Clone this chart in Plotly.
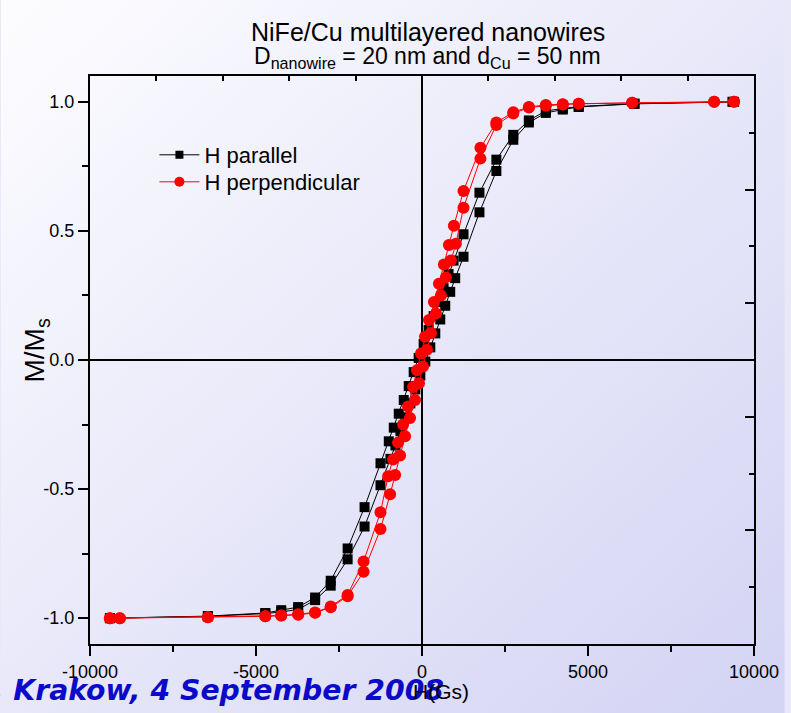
import base64
import plotly.graph_objects as go

# ---------------- data ----------------
# H parallel (black squares): descending branch then ascending branch
H_par_down = [9400, 6400, 4720, 4240, 3730, 3220, 2750, 2240, 1730, 1250, 950, 800, 650, 500,
              350, 200, 50, -100, -250, -400, -550, -700, -850, -1000, -1250, -1730, -2240,
              -2750, -3220, -3730, -4240, -4720, -6450, -9400]
M_par_down = [1.0, 0.993, 0.982, 0.975, 0.965, 0.928, 0.872, 0.776, 0.648, 0.487, 0.385, 0.333,
              0.278, 0.224, 0.17, 0.116, 0.062, 0.008, -0.047, -0.101, -0.155, -0.208, -0.262,
              -0.315, -0.400, -0.570, -0.730, -0.855, -0.920, -0.957, -0.969, -0.980, -0.992, -1.0]
H_par_up = [-9400, -6450, -4720, -4240, -3730, -3220, -2750, -2240, -1730, -1250, -950, -800, -650,
            -500, -350, -200, -50, 100, 250, 400, 550, 700, 850, 1000, 1250, 1730, 2240, 2750,
            3220, 3730, 4240, 4720, 6400, 9350]
M_par_up = [-1.0, -0.993, -0.982, -0.976, -0.966, -0.93, -0.874, -0.772, -0.645, -0.485, -0.383,
            -0.331, -0.276, -0.222, -0.168, -0.114, -0.06, -0.006, 0.049, 0.103, 0.157, 0.21,
            0.264, 0.317, 0.40, 0.572, 0.732, 0.853, 0.92, 0.957, 0.97, 0.98, 0.992, 1.0]

# H perpendicular (red circles)
H_perp_down = [9400, 8800, 6330, 4720, 4240, 3730, 3220, 2750, 2240, 1760, 1250, 960, 810, 660,
               510, 360, 210, 90, -30, -150, -270, -420, -570, -720, -870, -1020, -1250, -1760,
               -2240, -2750, -3220, -3730, -4240, -4720, -6450, -9100, -9400]
M_perp_down = [1.0, 1.0, 0.996, 0.993, 0.991, 0.988, 0.98, 0.96, 0.92, 0.822, 0.655, 0.52, 0.445,
               0.37, 0.295, 0.225, 0.155, 0.09, 0.025, -0.04, -0.105, -0.18, -0.25, -0.32, -0.385,
               -0.45, -0.59, -0.78, -0.91, -0.955, -0.978, -0.985, -0.99, -0.993, -0.996, -1.0, -1.0]
H_perp_up = [-9400, -9100, -6450, -4720, -4240, -3730, -3220, -2750, -2240, -1760, -1250, -960,
             -810, -660, -510, -360, -210, -90, 30, 150, 270, 420, 570, 720, 870, 1020, 1250,
             1760, 2240, 2750, 3220, 3730, 4240, 4720, 6330, 8800, 9400]
M_perp_up = [-1.0, -1.0, -0.996, -0.993, -0.99, -0.987, -0.979, -0.958, -0.915, -0.82, -0.655,
             -0.52, -0.445, -0.37, -0.295, -0.225, -0.155, -0.09, -0.025, 0.04, 0.105, 0.18, 0.25,
             0.32, 0.385, 0.45, 0.59, 0.78, 0.91, 0.955, 0.978, 0.985, 0.99, 0.993, 0.996, 1.0, 1.0]

series_names = ["H parallel", "H perpendicular"]

x_tick_vals = [-10000, -5000, 0, 5000, 10000]
x_tick_text = ["-10000", "-5000", "0", "5000", "10000"]
x_minor_vals = [-7500, -2500, 2500, 7500]
y_tick_vals = [-1.0, -0.5, 0.0, 0.5, 1.0]
y_tick_text = ["-1.0", "-0.5", "0.0", "0.5", "1.0"]
y_minor_vals = [-0.75, -0.25, 0.25, 0.75]

FONT = "Arial, Liberation Sans, sans-serif"

# ---------------- figure ----------------
fig = go.Figure()

fig.add_trace(go.Scatter(
    x=H_par_down + H_par_up, y=M_par_down + M_par_up, mode="lines+markers",
    line=dict(color="black", width=1),
    marker=dict(symbol="square", size=10, color="black"),
    showlegend=False))
fig.add_trace(go.Scatter(
    x=H_perp_down + H_perp_up, y=M_perp_down + M_perp_up, mode="lines+markers",
    line=dict(color="red", width=1),
    marker=dict(symbol="circle", size=12, color="red"),
    showlegend=False))

# legend entries (smaller symbols as in the original), each in its own legend box
fig.add_trace(go.Scatter(x=[None], y=[None], mode="lines+markers", name=series_names[0],
                         line=dict(color="black", width=1), legend="legend",
                         marker=dict(symbol="square", size=8, color="black")))
fig.add_trace(go.Scatter(x=[None], y=[None], mode="lines+markers", name=series_names[1],
                         line=dict(color="red", width=1), legend="legend2",
                         marker=dict(symbol="circle", size=10, color="red")))

# dummy trace for the mirror axes (top / right)
fig.add_trace(go.Scatter(x=[None], y=[None], xaxis="x2", yaxis="y2", showlegend=False,
                         hoverinfo="skip"))

svg = ('<svg xmlns="http://www.w3.org/2000/svg" width="791" height="713" viewBox="0 0 791 713" '
       'preserveAspectRatio="none"><defs><linearGradient id="g" x1="0" y1="0" x2="1" y2="1">'
       '<stop offset="0" stop-color="#fdfdff"/><stop offset="1" stop-color="#d3d3f4"/>'
       '</linearGradient></defs><rect width="791" height="713" fill="url(#g)"/></svg>')
bg_src = "data:image/svg+xml;base64," + base64.b64encode(svg.encode()).decode()

W, H = 791, 713
ML, MR, MT, MB = 90, 31, 76, 69
PW, PH = W - ML - MR, H - MT - MB


def px(xp):
    return (xp - ML) / PW


def py(yp):
    return (H - MB - yp) / PH


axis_common = dict(showline=True, linecolor="black", linewidth=2, showgrid=False,
                   tickcolor="black", tickwidth=2, tickfont=dict(family=FONT, size=18, color="black"))

legend_common = dict(xanchor="left", yanchor="middle", bgcolor="rgba(0,0,0,0)", borderwidth=0,
                     itemwidth=40, font=dict(family=FONT, size=22, color="black"))

fig.update_layout(
    width=W, height=H,
    margin=dict(l=ML, r=MR, t=MT, b=MB),
    paper_bgcolor="#e8e8f8", plot_bgcolor="rgba(0,0,0,0)",
    font=dict(family=FONT, color="black"),
    images=[dict(source=bg_src, xref="paper", yref="paper", x=-ML / PW, y=1 + MT / PH,
                 sizex=W / PW, sizey=H / PH, sizing="stretch", layer="below",
                 xanchor="left", yanchor="top")],
    xaxis=dict(range=[-10000, 10000], tickmode="array", tickvals=x_tick_vals, ticktext=x_tick_text,
               ticks="outside", ticklen=10,
               minor=dict(tickmode="array", tickvals=x_minor_vals, ticks="outside", ticklen=6,
                          tickwidth=2, tickcolor="black"),
               zeroline=True, zerolinecolor="black", zerolinewidth=2, **axis_common),
    yaxis=dict(range=[-1.1, 1.1], tickmode="array", tickvals=y_tick_vals, ticktext=y_tick_text,
               ticks="outside", ticklen=10,
               minor=dict(tickmode="array", tickvals=y_minor_vals, ticks="outside", ticklen=6,
                          tickwidth=2, tickcolor="black"),
               zeroline=True, zerolinecolor="black", zerolinewidth=2, **axis_common),
    xaxis2=dict(range=[-10000, 10000], overlaying="x", side="top", anchor="y2",
                tickmode="linear", tick0=-10000, dtick=2000, ticks="inside", ticklen=5,
                showticklabels=False, zeroline=False, **axis_common),
    yaxis2=dict(range=[-1.1, 1.1], overlaying="y", side="right", anchor="x2",
                tickmode="linear", tick0=-1.1, dtick=0.44, ticks="inside", ticklen=9,
                minor=dict(tick0=-1.1, dtick=0.22, ticks="inside", ticklen=5, tickwidth=2,
                           tickcolor="black"),
                showticklabels=False, zeroline=False, **axis_common),
    legend=dict(x=px(155), y=py(155), **legend_common),
    legend2=dict(x=px(155), y=py(182), **legend_common),
    showlegend=True,
)

fig.add_annotation(xref="paper", yref="paper", x=px(431), y=py(32), xanchor="center",
                   yanchor="middle", showarrow=False, text="NiFe/Cu multilayered nanowires",
                   font=dict(family=FONT, size=25, color="black"))
fig.add_annotation(xref="paper", yref="paper", x=px(431), y=py(58), xanchor="center",
                   yanchor="middle", showarrow=False,
                   text="D<sub>nanowire</sub> = 20 nm and d<sub>Cu</sub> = 50 nm",
                   font=dict(family=FONT, size=23, color="black"))

fig.add_annotation(xref="paper", yref="paper", x=px(449), y=py(690), xanchor="right",
                   yanchor="middle", showarrow=False,
                   text="<b><i>ISMANAM, Krakow, 4 September 2008</i></b>",
                   font=dict(family="DejaVu Sans", size=28.3, color="#0a0ac8"))
fig.add_annotation(xref="paper", yref="paper", x=px(444), y=py(692), xanchor="center",
                   yanchor="middle", showarrow=False, text="H(Gs)",
                   font=dict(family=FONT, size=21, color="black"))
fig.add_annotation(xref="paper", yref="paper", x=px(36), y=py(350), xanchor="center",
                   yanchor="middle", showarrow=False, textangle=-90, text="M/M<sub>s</sub>",
                   font=dict(family=FONT, size=28, color="black"))

fig.write_html("out.html", config={"displayModeBar": False},
               post_script=["document.body.style.margin='0';"
                            "document.body.style.overflow='hidden';"])
